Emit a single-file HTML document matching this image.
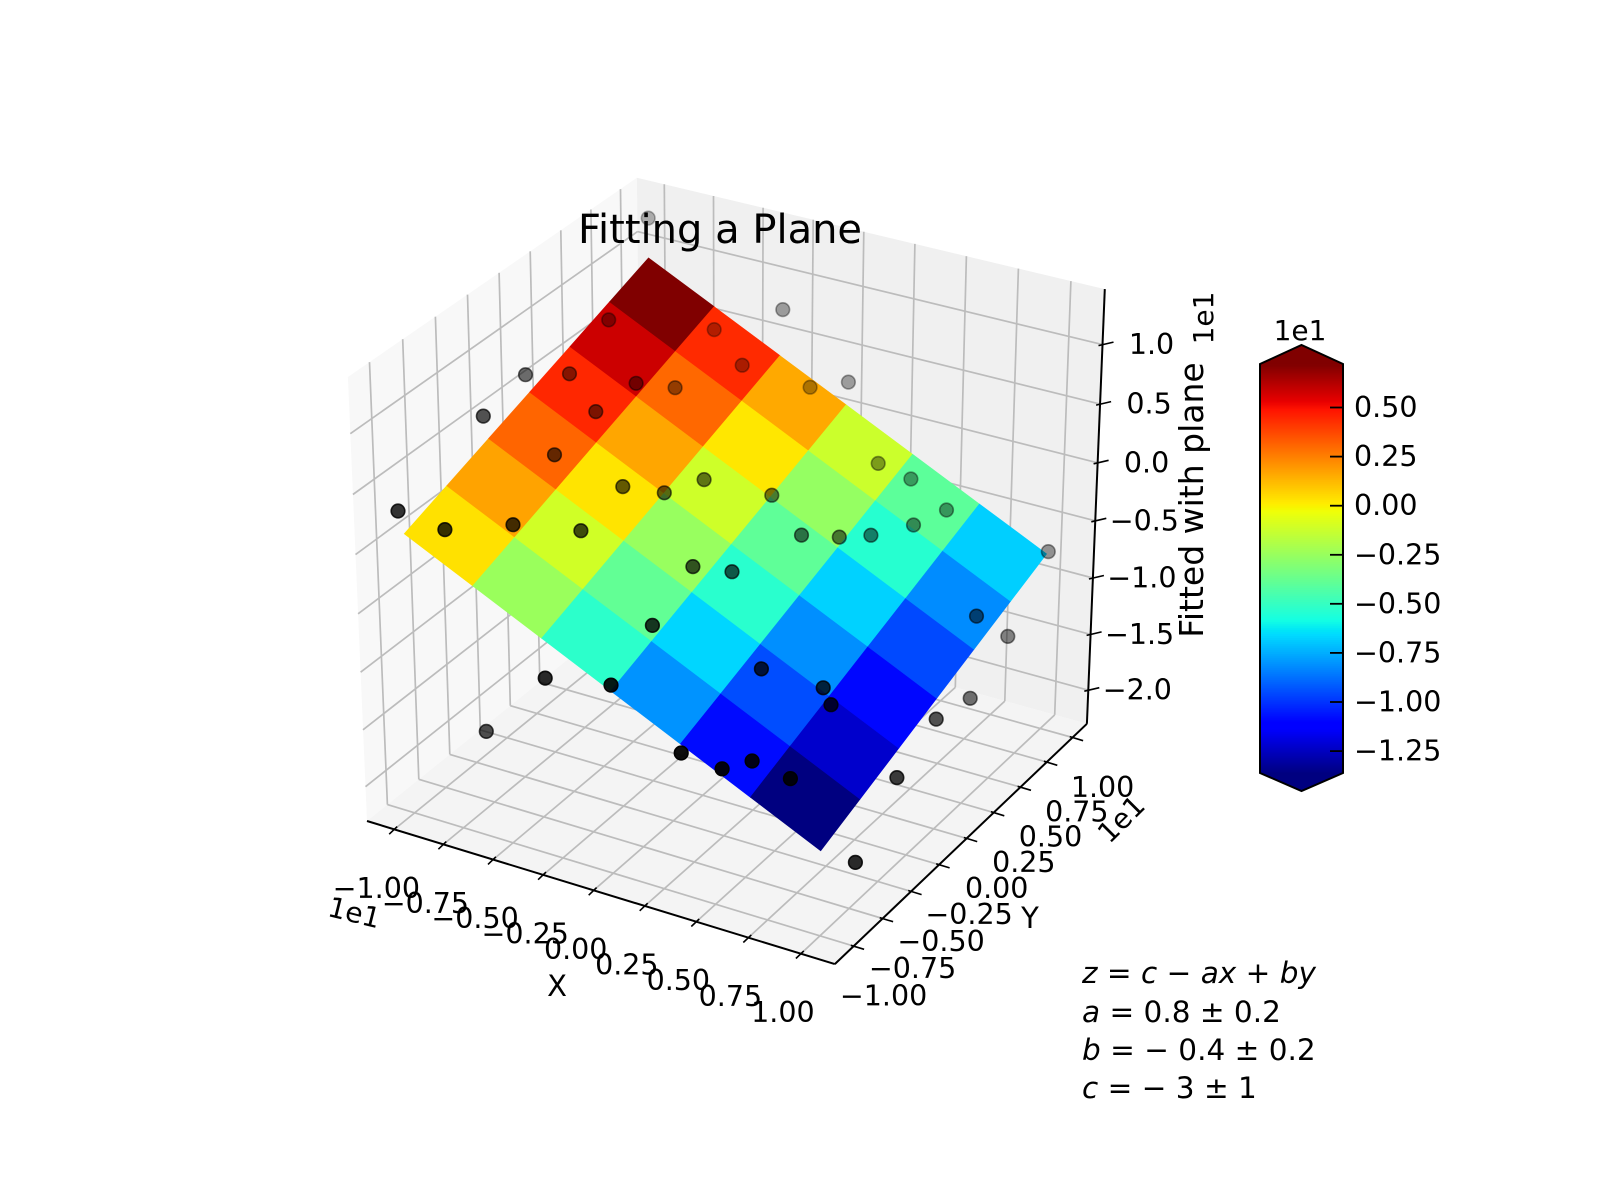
<!DOCTYPE html>
<html><head><meta charset="utf-8"><title>Fitting a Plane</title>
<style>
html,body{margin:0;padding:0;background:#fff;}
svg{display:block;font-family:"DejaVu Sans","Liberation Sans",sans-serif;}
</style></head>
<body>
<svg id="chart" xmlns="http://www.w3.org/2000/svg" width="1600" height="1200" viewBox="0 0 1600 1200">
<rect x="0" y="0" width="1600" height="1200" fill="#ffffff"/>
<g id="panes"></g>
<g id="grid"></g>
<g id="axes"></g>
<g id="surface"></g>
<g id="points"></g>
<g id="ticklabels"></g>
<g id="colorbar"></g>
<text x="720" y="243" font-size="40" text-anchor="middle" fill="#000">Fitting a Plane</text>
<text x="557" y="996" font-size="29" text-anchor="middle" fill="#000">X</text>
<text x="1030" y="928" font-size="29" text-anchor="middle" fill="#000">Y</text>
<text x="0" y="0" font-size="33" text-anchor="middle" fill="#000" transform="translate(1203,500) rotate(-90)">Fitted with plane</text>
<text x="0" y="0" font-size="28" text-anchor="middle" fill="#000" transform="translate(352,922) rotate(14)">1e1</text>
<text x="0" y="0" font-size="28" text-anchor="middle" fill="#000" transform="translate(1128,826) rotate(-45)">1e1</text>
<text x="0" y="0" font-size="28" text-anchor="middle" fill="#000" transform="translate(1213,318) rotate(-90)">1e1</text>
<text x="1300" y="340" font-size="28" text-anchor="middle" fill="#000">1e1</text>
<g font-size="29.5" fill="#000">
<text x="1082" y="983"><tspan font-style="italic">z</tspan> = <tspan font-style="italic">c</tspan> − <tspan font-style="italic">ax</tspan> + <tspan font-style="italic">by</tspan></text>
<text x="1082" y="1022"><tspan font-style="italic">a</tspan> = 0.8 ± 0.2</text>
<text x="1082" y="1060"><tspan font-style="italic">b</tspan> =  − 0.4 ± 0.2</text>
<text x="1082" y="1098"><tspan font-style="italic">c</tspan> =  − 3 ± 1</text>
</g>
</svg>
<script>
// ---- data ----
var xLim = [-11.4, 11.6];
var yLim = [-11.6, 11.4];
var zLim = [-23.05, 14.6];
var xTicks = [-10, -7.5, -5, -2.5, 0, 2.5, 5, 7.5, 10];
var xTickLabels = ['\u22121.00','\u22120.75','\u22120.50','\u22120.25','0.00','0.25','0.50','0.75','1.00'];
var yTicks = [-10, -7.5, -5, -2.5, 0, 2.5, 5, 7.5, 10];
var yTickLabels = ['\u22121.00','\u22120.75','\u22120.50','\u22120.25','0.00','0.25','0.50','0.75','1.00'];
var zTicks = [-20, -15, -10, -5, 0, 5, 10];
var zTickLabels = ['\u22122.0','\u22121.5','\u22121.0','\u22120.5','0.0','0.5','1.0'];
var cbTicks = [5, 2.5, 0, -2.5, -5, -7.5, -10, -12.5];
var cbTickLabels = ['0.50','0.25','0.00','\u22120.25','\u22120.50','\u22120.75','\u22121.00','\u22121.25'];
var gridX = [-10, -6.667, -3.333, 0, 3.333, 6.667, 10];
var gridY = [-10, -6.667, -3.333, 0, 3.333, 6.667, 10];
var planeC = -3.2;
var planeA = 0.84;
var planeB = 0.41;
var ptX = [-10.0,-9.54,-6.05,-3.2,-10.0,-9.29,-7.02,-5.72,-4.25,-7.50,-1.57,0.1,-10.0,-7.61,-10.77,-4.74,-3.33,-2.46,0.0,2.49,3.90,5.78,-8.92,-7.04,-4.87,1.91,3.12,4.05,5.12,10.0,-0.61,0.70,9.29,10.0,-0.37,-3.2,-0.14,3.96,6.28,6.92,10.0,10.0,-6.2,3.57,5.16,5.87,7.43,10.0,10.0];
var ptY = [10.0,5.82,8.95,10.0,-0.3,2.11,3.90,5.01,8.28,1.32,9.58,10.0,-3.7,-1.90,-9.26,-1.06,0.02,1.90,3.45,8.42,8.82,8.62,-8.55,-6.20,-4.29,2.67,3.83,4.96,6.83,10.16,-2.22,-1.18,4.87,6.5,-5.99,-10.0,-9.75,-4.36,-3.19,-3.66,3.1,0.0,-10.0,-10.34,-9.72,-8.47,-8.00,-3.45,-7.0];
var ptZ = [12.7,7.20,5.55,7.7,6.9,5.47,4.30,3.65,3.76,3.64,2.05,2.9,6.0,2.41,2.05,0.35,-0.39,-0.35,-1.79,-1.84,-2.86,-4.53,0.78,0.17,-0.87,-3.71,-4.25,-4.57,-4.70,-7.43,-3.60,-4.27,-9.0,-11.8,-5.35,-7.8,-7.08,-8.32,-9.79,-10.51,-14.3,-13.4,-13.9,-10.44,-11.52,-11.60,-12.72,-15.4,-19.5];

// ---- projection (elev 30, azim -60) ----
var NS = 'http://www.w3.org/2000/svg';
function proj(x, y, z) {
  var qx = (x - xLim[0]) / (xLim[1] - xLim[0]) - 0.5;
  var qy = (y - yLim[0]) / (yLim[1] - yLim[0]) - 0.5;
  var qz = (z - zLim[0]) / (zLim[1] - zLim[0]) - 0.5;
  var uq = 0.8660 * qx + 0.5 * qy;
  var vq = -0.25 * qx + 0.4330 * qy + 0.8660 * qz;
  var wq = 0.4330 * qx - 0.75 * qy + 0.5 * qz;
  var den = 10 - wq;
  return [732.5 + 5401 * uq / den, 557.5 - 5070 * vq / den, wq];
}
function mk(tag, attrs, parent) {
  var el = document.createElementNS(NS, tag);
  for (var k in attrs) el.setAttribute(k, attrs[k]);
  parent.appendChild(el);
  return el;
}
function pts(list) { return list.map(function (p) { return p[0].toFixed(1) + ',' + p[1].toFixed(1); }).join(' '); }
function jetCh(t, seg) {
  for (var i = 1; i < seg.length; i++) {
    if (t <= seg[i][0]) { var a = seg[i - 1], b = seg[i]; return a[1] + (b[1] - a[1]) * (t - a[0]) / (b[0] - a[0]); }
  }
  return seg[seg.length - 1][1];
}
function jet(t) {
  t = Math.max(0, Math.min(1, t));
  var r = jetCh(t, [[0,0],[0.35,0],[0.66,1],[0.89,1],[1,0.5]]);
  var g = jetCh(t, [[0,0],[0.125,0],[0.375,1],[0.64,1],[0.91,0],[1,0]]);
  var b = jetCh(t, [[0,0.5],[0.11,1],[0.34,1],[0.65,0],[1,0]]);
  return 'rgb(' + Math.round(r * 255) + ',' + Math.round(g * 255) + ',' + Math.round(b * 255) + ')';
}
var x0 = xLim[0], x1 = xLim[1], y0 = yLim[0], y1 = yLim[1], z0 = zLim[0], z1 = zLim[1];

// ---- panes ----
var gP = document.getElementById('panes');
var pl = mk('polygon', {points: pts([proj(x0,y0,z0), proj(x0,y1,z0), proj(x0,y1,z1), proj(x0,y0,z1)]), fill: '#f8f8f8'}, gP);


var pr = mk('polygon', {points: pts([proj(x0,y1,z0), proj(x1,y1,z0), proj(x1,y1,z1), proj(x0,y1,z1)]), fill: '#f0f0f0'}, gP);


var pf = mk('polygon', {points: pts([proj(x0,y0,z0), proj(x1,y0,z0), proj(x1,y1,z0), proj(x0,y1,z0)]), fill: '#f4f4f4'}, gP);



// ---- grid ----
var gG = document.getElementById('grid');
function gline(a, b, name) {
  var l = mk('line', {x1: a[0].toFixed(1), y1: a[1].toFixed(1), x2: b[0].toFixed(1), y2: b[1].toFixed(1), stroke: '#bcbcbc', 'stroke-width': 1.7}, gG);
  
  
}
yTicks.forEach(function (y) { gline(proj(x0, y, z0), proj(x0, y, z1), 'grid-line-y'); gline(proj(x0, y, z0), proj(x1, y, z0), 'grid-line-y'); });
xTicks.forEach(function (x) { gline(proj(x, y1, z0), proj(x, y1, z1), 'grid-line-x'); gline(proj(x, y0, z0), proj(x, y1, z0), 'grid-line-x'); });
zTicks.forEach(function (z) { gline(proj(x0, y0, z), proj(x0, y1, z), 'grid-line-z'); gline(proj(x0, y1, z), proj(x1, y1, z), 'grid-line-z'); });

// ---- axis lines and ticks ----
var gA = document.getElementById('axes');
function aline(a, b, name, w) {
  var l = mk('line', {x1: a[0].toFixed(1), y1: a[1].toFixed(1), x2: b[0].toFixed(1), y2: b[1].toFixed(1), stroke: '#000', 'stroke-width': w}, gA);
  
  
}
aline(proj(x0, y0, z0), proj(x1, y0, z0), 'x-axis-line', 2);
aline(proj(x1, y0, z0), proj(x1, y1, z0), 'y-axis-line', 2);
aline(proj(x1, y1, z0), proj(x1, y1, z1), 'z-axis-line', 2);
var gT = document.getElementById('ticklabels');
function tlabel(x, y, s, name) {
  var t = mk('text', {x: x.toFixed(1), y: y.toFixed(1), 'font-size': 28.5, 'text-anchor': 'middle', 'dominant-baseline': 'central', fill: '#000'}, gT);
  t.textContent = s;
  
  
}
xTicks.forEach(function (x, i) {
  var p = proj(x, y0, z0);
  aline([p[0] - 7 * 0.72, p[1] + 7 * 0.69], [p[0] + 4 * 0.72, p[1] - 4 * 0.69], 'x-tick-mark', 1.6);
  tlabel(p[0] - 18, p[1] + 59, xTickLabels[i], 'x-tick-label');
});
yTicks.forEach(function (y, i) {
  var p = proj(x1, y, z0);
  aline([p[0] - 3 * 0.955, p[1] - 3 * 0.29], [p[0] + 11 * 0.955, p[1] + 11 * 0.29], 'y-tick-mark', 1.6);
  tlabel(p[0] + 30, p[1] + 50, yTickLabels[i], 'y-tick-label');
});
zTicks.forEach(function (z, i) {
  var p = proj(x1, y1, z);
  aline([p[0] - 4, p[1] + 1], [p[0] + 11, p[1] - 2.5], 'z-tick-mark', 1.6);
  tlabel(p[0] + 49, p[1], zTickLabels[i], 'z-tick-label');
});

// ---- surface ----
function planeZ(x, y) { return planeC - planeA * x + planeB * y; }
var faces = [];
for (var i = 0; i < gridX.length - 1; i++) {
  for (var j = 0; j < gridY.length - 1; j++) {
    var c = [[gridX[i], gridY[j]], [gridX[i + 1], gridY[j]], [gridX[i + 1], gridY[j + 1]], [gridX[i], gridY[j + 1]]];
    var zs = c.map(function (v) { return planeZ(v[0], v[1]); });
    var avg = (zs[0] + zs[1] + zs[2] + zs[3]) / 4;
    faces.push({corners: c, zs: zs, avg: avg});
  }
}
var fmin = Math.min.apply(null, faces.map(function (f) { return f.avg; }));
var fmax = Math.max.apply(null, faces.map(function (f) { return f.avg; }));
var gS = document.getElementById('surface');
faces.forEach(function (f) {
  var P = f.corners.map(function (v, k) { return proj(v[0], v[1], f.zs[k]); });
  var col = jet((f.avg - fmin) / (fmax - fmin));
  var poly = mk('polygon', {points: pts(P), fill: col, stroke: col, 'stroke-width': 0.6}, gS);
  
  
});

// ---- scatter points ----
var gPt = document.getElementById('points');
var pp = ptX.map(function (x, k) { return proj(x, ptY[k], ptZ[k]); });
var wmin = Math.min.apply(null, pp.map(function (p) { return p[2]; }));
var wmax = Math.max.apply(null, pp.map(function (p) { return p[2]; }));
var order = pp.map(function (p, k) { return k; }).sort(function (a, b) { return pp[a][2] - pp[b][2]; });
order.forEach(function (k) {
  var p = pp[k];
  var a = 1 - 0.7 * (wmax - p[2]) / (wmax - wmin);
  var c = mk('circle', {cx: p[0].toFixed(1), cy: p[1].toFixed(1), r: 6.8, fill: '#000', 'fill-opacity': (a * 0.95).toFixed(3), stroke: '#000', 'stroke-opacity': a.toFixed(3), 'stroke-width': 1.6}, gPt);
  
  
});

// ---- colorbar ----
var gC = document.getElementById('colorbar');
var cbL = 1260, cbR = 1343, cbTop = 364, cbBot = 773;
function cbY(v) { return cbBot - (v - fmin) / (fmax - fmin) * (cbBot - cbTop); }
var nStrip = 205;
for (var s = 0; s < nStrip; s++) {
  var t0 = s / nStrip, t1 = (s + 1) / nStrip;
  var yA = cbBot - t1 * (cbBot - cbTop), yB = cbBot - t0 * (cbBot - cbTop);
  var r = mk('rect', {x: cbL, y: yA.toFixed(2), width: cbR - cbL, height: (yB - yA + 0.6).toFixed(2), fill: jet((t0 + t1) / 2)}, gC);
  
  
}
var ext1 = mk('polygon', {points: cbL + ',' + cbTop + ' ' + (cbL + cbR) / 2 + ',345 ' + cbR + ',' + cbTop, fill: jet(1)}, gC);


var ext2 = mk('polygon', {points: cbL + ',' + cbBot + ' ' + (cbL + cbR) / 2 + ',791 ' + cbR + ',' + cbBot, fill: jet(0)}, gC);


var outline = mk('polygon', {points: cbL + ',' + cbTop + ' ' + (cbL + cbR) / 2 + ',345 ' + cbR + ',' + cbTop + ' ' + cbR + ',' + cbBot + ' ' + (cbL + cbR) / 2 + ',791 ' + cbL + ',' + cbBot, fill: 'none', stroke: '#000', 'stroke-width': 2}, gC);


cbTicks.forEach(function (v, i) {
  var y = cbY(v);
  var tm = mk('line', {x1: cbR - 13, y1: y.toFixed(1), x2: cbR, y2: y.toFixed(1), stroke: '#000', 'stroke-width': 1.8}, gC);
  
  
  var tl = mk('text', {x: 1354, y: y.toFixed(1), 'font-size': 28.5, 'dominant-baseline': 'central', fill: '#000'}, gC);
  tl.textContent = cbTickLabels[i];
  
  
});
</script>
</body></html>
